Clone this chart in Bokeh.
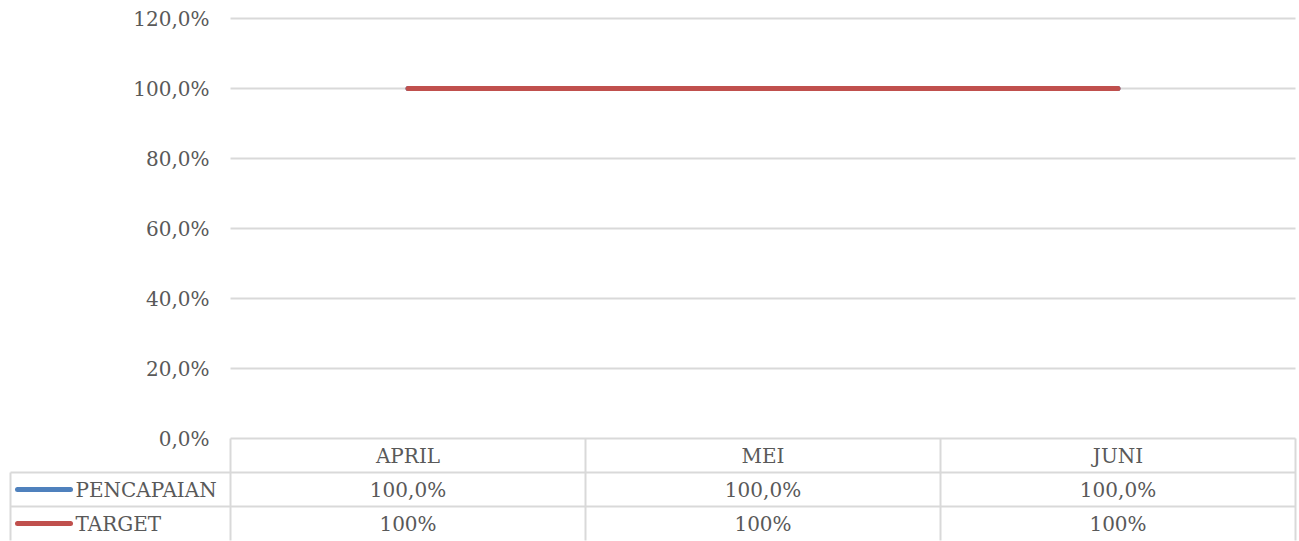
from bokeh.plotting import figure
from bokeh.models import Range1d, ColumnDataSource
from bokeh.core.properties import value
from bokeh.embed import file_html
from bokeh.resources import INLINE

# ---- data ----
categories = ["APRIL", "MEI", "JUNI"]
series_names = ["PENCAPAIAN", "TARGET"]
pencapaian = [1.0, 1.0, 1.0]
target = [1.0, 1.0, 1.0]
y_ticks = [0.0, 0.2, 0.4, 0.6, 0.8, 1.0, 1.2]
y_tick_labels = ["0,0%", "20,0%", "40,0%", "60,0%", "80,0%", "100,0%", "120,0%"]

# ---- layout (pixels) ----
W, H = 1299, 541
TABLE_L = 10
PLOT_L, PLOT_R = 230, 1295
TOP_GRID = 18
ROW_H = 34
ZERO_Y = 438

n = len(categories)
px_x = (PLOT_R - PLOT_L) / n
px_y = (ZERO_Y - TOP_GRID) / y_ticks[-1]
x_start = -PLOT_L / px_x
x_end = n + (W - PLOT_R) / px_x
y_end = y_ticks[-1] + TOP_GRID / px_y
y_start = -(H - ZERO_Y) / px_y
row = ROW_H / px_y
left = -(PLOT_L - TABLE_L) / px_x

GRID = "#d9d9d9"
TXT = "#595959"
BLUE = "#4f81bd"
RED = "#c0504d"
FONT = value("DejaVu Serif")
FS = "20px"

p = figure(width=W, height=H, x_range=Range1d(x_start, x_end), y_range=Range1d(y_start, y_end),
           output_backend="svg", toolbar_location=None, min_border=0,
           x_axis_location=None, y_axis_location=None)
p.outline_line_color = None
p.grid.visible = False
p.background_fill_color = "white"
p.border_fill_color = "white"

# gridlines
gy = y_ticks[1:]
p.segment(x0=[0] * len(gy), x1=[n] * len(gy), y0=gy, y1=gy, line_color=GRID, line_width=2)

# y tick labels
p.text(x=[0] * len(y_ticks), y=y_ticks, text=y_tick_labels, x_offset=-21,
       text_align="right", text_baseline="middle", text_font=FONT,
       text_font_size=FS, text_color=TXT)

# data table grid
tb = -3 * row
p.segment(x0=[0, left, left], x1=[n, n, n], y0=[0, -row, -2 * row], y1=[0, -row, -2 * row],
          line_color=GRID, line_width=2)
vx = list(range(n + 1))
p.segment(x0=vx, x1=vx, y0=[0] * len(vx), y1=[tb] * len(vx), line_color=GRID, line_width=2)
p.segment(x0=[left], x1=[left], y0=[-row], y1=[tb], line_color=GRID, line_width=2)

xc = [i + 0.5 for i in range(n)]

# header
p.text(x=xc, y=[-row / 2] * n, text=categories, text_align="center", text_baseline="middle",
       text_font=FONT, text_font_size=FS, text_color=TXT)

# table values
def pct1(v):
    return ("%.1f%%" % (v * 100)).replace(".", ",")

def pct0(v):
    return "%d%%" % round(v * 100)

p.text(x=xc, y=[-1.5 * row] * n, text=[pct1(v) for v in pencapaian], text_align="center",
       text_baseline="middle", text_font=FONT, text_font_size=FS, text_color=TXT)
p.text(x=xc, y=[-2.5 * row] * n, text=[pct0(v) for v in target], text_align="center",
       text_baseline="middle", text_font=FONT, text_font_size=FS, text_color=TXT)

# legend keys in table
k0 = left + 7 / px_x
k1 = left + 60 / px_x
p.segment(x0=[k0], x1=[k1], y0=[-1.5 * row], y1=[-1.5 * row], line_color=BLUE, line_width=5, line_cap="round")
p.segment(x0=[k0], x1=[k1], y0=[-2.5 * row], y1=[-2.5 * row], line_color=RED, line_width=5, line_cap="round")
p.text(x=[left, left], y=[-1.5 * row, -2.5 * row], text=series_names, x_offset=65,
       text_align="left", text_baseline="middle", text_font=FONT, text_font_size=FS, text_color=TXT)

# series lines
src = ColumnDataSource(dict(x=xc, pencapaian=pencapaian, target=target))
p.line("x", "pencapaian", source=src, line_color=BLUE, line_width=5, line_cap="round", line_join="round")
p.line("x", "target", source=src, line_color=RED, line_width=5, line_cap="round", line_join="round")

open("out.html", "w").write(file_html(p, INLINE))
